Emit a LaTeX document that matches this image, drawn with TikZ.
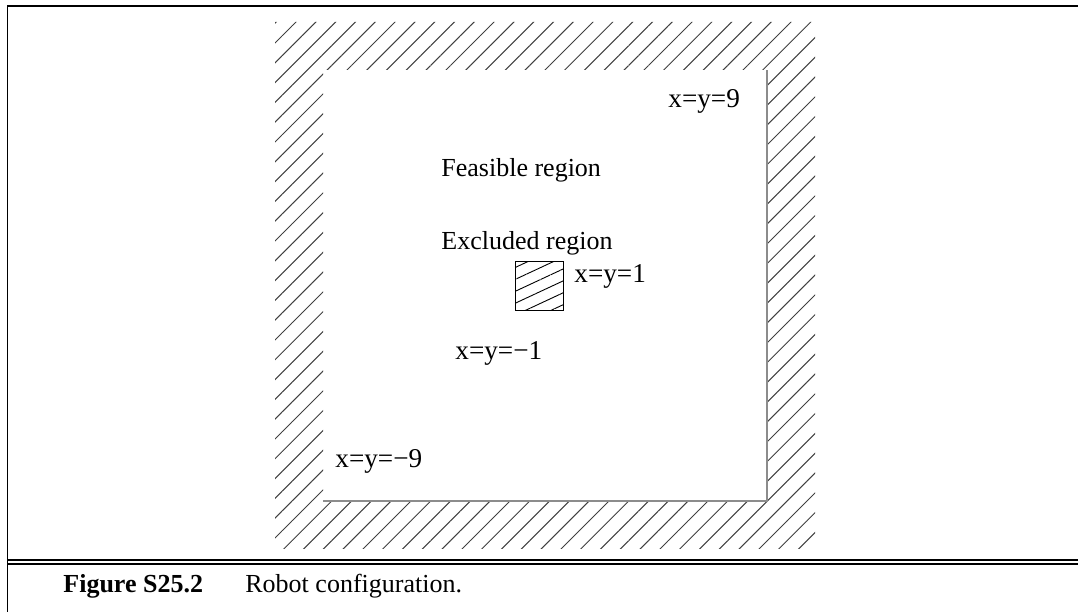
\documentclass[tikz,border=0pt]{standalone}
\usepackage{fontspec}
\setmainfont{Liberation Serif}
\usetikzlibrary{patterns.meta}

\tikzset{
  wallhatch/.style={pattern={Lines[angle=45,distance=7bp,line width=0.5bp]},pattern color=black!75},
  boxhatch/.style={pattern={Lines[angle=25,distance=5.4bp,line width=0.45bp]},pattern color=black},
  lbl/.style={anchor=base west,inner sep=0pt,font=\fontsize{13bp}{15bp}\selectfont},
  xylbl/.style={lbl,font=\fontsize{13.6bp}{15bp}\selectfont},
}

\begin{document}
\begin{tikzpicture}[x=0.5bp,y=-0.5bp]
\useasboundingbox (0,0) rectangle (1078,615);

\draw[line width=0.9bp](7.5,612)--(7.5,5.8)--(1078,5.8);
\draw[line width=0.9bp](7.5,560)--(1078,560);
\draw[line width=0.9bp](7.5,563.8)--(1078,563.8);

\fill[wallhatch,even odd rule](275,22) rectangle (815,549) (323,70) rectangle (767,501);
\draw[black!45,line width=0.6bp](323,501)--(767,501)--(767,70);

\draw[boxhatch,line width=0.5bp](515,262) rectangle (563,311);

\node[xylbl] (xymax) at (668,108) {x=y=9};
\node[lbl] (feas) at (441,177) {Feasible region};
\node[lbl] (excl) at (441,250) {Excluded region};
\node[xylbl] (xyone) at (574,283) {x=y=1};
\node[xylbl] (xymone) at (455,360) {x=y=−1};
\node[xylbl] (xymin) at (335,468) {x=y=−9};

\node[lbl,font=\fontsize{13bp}{15bp}\selectfont\bfseries] (fignum) at (63,593) {Figure S25.2};
\node[lbl] (figcap) at (245,593) {Robot configuration.};
\end{tikzpicture}
\end{document}
